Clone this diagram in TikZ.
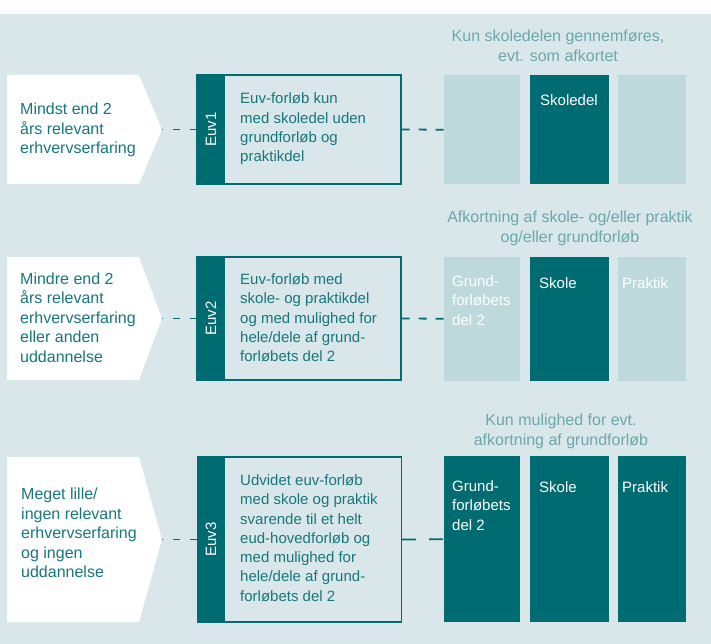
\documentclass[tikz,border=0pt]{standalone}
\usepackage{fontspec}
\setmainfont{Liberation Sans}
\definecolor{bgc}{HTML}{D9E7EA}
\definecolor{darkteal}{HTML}{006C71}
\definecolor{lightfill}{HTML}{BED9DC}
\definecolor{txtc}{HTML}{17777C}
\definecolor{hdrc}{HTML}{6AA8AC}
\begin{document}
\begin{tikzpicture}[x=1pt,y=-1pt,font=\fontsize{15}{19.3}\selectfont,
  pent/.style={fill=white},
  euvbox/.style={draw=darkteal,line width=1.3pt,minimum width=204pt,inner sep=0pt},
  strip/.style={fill=darkteal,minimum width=28pt,inner sep=0pt,text=white},
  lbox/.style={fill=lightfill,anchor=north west,inner sep=0pt},
  dbox/.style={fill=darkteal,anchor=north west,inner sep=0pt},
  lefttext/.style={anchor=west,align=left,text=txtc,inner sep=0pt},
  sidetext/.style={lefttext,font=\fontsize{16}{19.5}\selectfont},
  boxtext/.style={anchor=west,align=left,text=white,inner sep=0pt},
  hdrtext/.style={align=center,text=hdrc,inner sep=0pt,font=\fontsize{16}{20}\selectfont},
  conn/.style={draw=darkteal,line width=1.8pt,dash pattern=on 7pt off 10pt},
  connr/.style={draw=darkteal,line width=1.8pt,dash pattern=on 8pt off 9pt}]
\useasboundingbox (0,0) rectangle (711,644);
\fill[bgc] (0,14) rectangle (711,644);

% ---------- Row 1 ----------
\fill[pent] (7,75) -- (139,75) -- (162,129.5) -- (139,184) -- (7,184) -- cycle;
\coordinate (tip1) at (162,129.5);
\node[sidetext] (l1) at (20,130) {Mindst end 2\\års relevant\\erhvervserfaring};
\node[euvbox,minimum height=109pt] (b1) at (299,129.5) {};
\node[strip,minimum height=109pt] (s1) at (211,129.5) {\rotatebox{90}{Euv1}};
\node[lefttext] (t1) at (240,129) {Euv-forløb kun\\med skoledel uden\\grundforløb og\\praktikdel};
\node[lbox,minimum width=76pt,minimum height=109pt] (r1a) at (444,75) {};
\node[dbox,minimum width=79pt,minimum height=109pt] (r1b) at (530,75) {};
\node[lbox,minimum width=68pt,minimum height=109pt] (r1c) at (618,75) {};
\node[boxtext] (r1bt) at (540,100) {Skoledel};
\node[hdrtext] (h1) at (558,46) {Kun skoledelen gennemføres,\\evt. som afkortet};
\draw[conn] (s1.west) -- (tip1);
\draw[connr] (b1.east) -- (r1a.west);

% ---------- Row 2 ----------
\fill[pent] (7,257) -- (139,257) -- (162,318.5) -- (139,380) -- (7,380) -- cycle;
\coordinate (tip2) at (162,318.5);
\node[sidetext] (l2) at (20,317.5) {Mindre end 2\\års relevant\\erhvervserfaring\\eller anden\\uddannelse};
\node[euvbox,minimum height=123pt] (b2) at (299,318.5) {};
\node[strip,minimum height=123pt] (s2) at (211,318.5) {\rotatebox{90}{Euv2}};
\node[lefttext] (t2) at (240,318) {Euv-forløb med\\skole- og praktikdel\\og med mulighed for\\hele/dele af grund-\\forløbets del 2};
\node[lbox,minimum width=76pt,minimum height=124pt] (r2a) at (444,256.5) {};
\node[dbox,minimum width=79pt,minimum height=124pt] (r2b) at (530,256.5) {};
\node[lbox,minimum width=68pt,minimum height=124pt] (r2c) at (618,256.5) {};
\node[boxtext] (r2at) at (452,300.5) {Grund-\\forløbets\\del 2};
\node[boxtext] (r2bt) at (539,283) {Skole};
\node[boxtext] (r2ct) at (622,283) {Praktik};
\node[hdrtext] (h2) at (570,228.5) {Afkortning af skole- og/eller praktik\\og/eller grundforløb};
\draw[conn] (s2.west) -- (tip2);
\draw[connr] (b2.east) -- (r2a.west);

% ---------- Row 3 ----------
\fill[pent] (7,457) -- (139,457) -- (162,539.5) -- (139,622) -- (7,622) -- cycle;
\coordinate (tip3) at (162,539.5);
\node[sidetext] (l3) at (21,533) {Meget lille/\\ingen relevant\\erhvervserfaring\\og ingen\\uddannelse};
\node[euvbox,minimum height=165pt] (b3) at (299.5,539.5) {};
\node[strip,minimum height=165pt] (s3) at (211,539.5) {\rotatebox{90}{Euv3}};
\node[lefttext] (t3) at (240,538) {Udvidet euv-forløb\\med skole og praktik\\svarende til et helt\\eud-hovedforløb og\\med mulighed for\\hele/dele af grund-\\forløbets del 2};
\node[dbox,minimum width=76pt,minimum height=166pt] (r3a) at (444,456) {};
\node[dbox,minimum width=79pt,minimum height=166pt] (r3b) at (530,456) {};
\node[dbox,minimum width=68pt,minimum height=166pt] (r3c) at (618,456) {};
\node[boxtext] (r3at) at (452,505.5) {Grund-\\forløbets\\del 2};
\node[boxtext] (r3bt) at (539,487) {Skole};
\node[boxtext] (r3ct) at (622,487) {Praktik};
\node[hdrtext] (h3) at (561,431) {Kun mulighed for evt.\\afkortning af grundforløb};
\draw[conn] (s3.west) -- (tip3);
\draw[draw=darkteal,line width=1.8pt,dash pattern=on 14pt off 13pt] (b3.east) -- (r3a.west);
\end{tikzpicture}
\end{document}
